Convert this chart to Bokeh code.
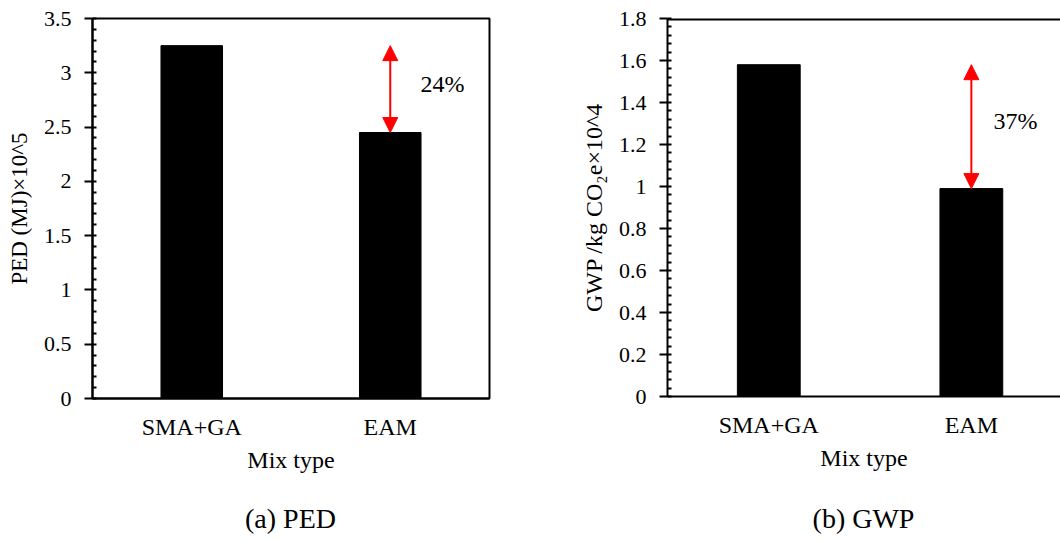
import numpy as np
from bokeh.plotting import figure
from bokeh.models import (Range1d, FixedTicker, NumeralTickFormatter, Arrow,
                          NormalHead, Label, Span, Div)
from bokeh.layouts import row, column
from bokeh.embed import file_html
from bokeh.resources import INLINE

# ---------------- data ----------------
mix_types = ["SMA+GA", "EAM"]
ped_values = [3.25, 2.45]          # PED (MJ) x10^5
gwp_values = [1.58, 0.99]          # GWP kg CO2e x10^4
ped_ticks = [0, 0.5, 1, 1.5, 2, 2.5, 3, 3.5]
gwp_ticks = [0, 0.2, 0.4, 0.6, 0.8, 1, 1.2, 1.4, 1.6, 1.8]
ped_reduction = "24%"
gwp_reduction = "37%"

FONT = "Liberation Serif"
FIG_H = 500
CAP_H = 41
x_pos = [i + 0.5 for i in range(len(mix_types))]


def make_panel(values, ticks, minor_step, x_end, ylabel, ylabel_size, pct,
               pct_x, pct_y, caption, width, b_left, b_right, b_bottom, outline):
    p = figure(width=width, height=FIG_H, output_backend="svg",
               toolbar_location=None,
               x_range=Range1d(0, x_end), y_range=Range1d(ticks[0], ticks[-1]),
               min_border_left=b_left, min_border_right=b_right,
               min_border_top=18, min_border_bottom=b_bottom)
    p.background_fill_color = "white"
    p.border_fill_color = "white"
    p.xgrid.visible = False
    p.ygrid.visible = False
    if outline:
        p.outline_line_color = "black"
        p.outline_line_width = 2
        p.outline_line_alpha = 1
    else:
        p.outline_line_color = None
        p.add_layout(Span(location=ticks[-1], dimension="width",
                          line_color="black", line_width=4))

    p.vbar(x=x_pos, top=values, width=0.31, fill_color="black",
           line_color="black")

    # x axis
    xa = p.xaxis[0]
    xa.ticker = FixedTicker(ticks=x_pos)
    xa.major_label_overrides = {x: lab for x, lab in zip(x_pos, mix_types)}
    xa.major_tick_line_color = None
    xa.minor_tick_line_color = None
    xa.axis_line_color = "black"
    xa.axis_line_width = 2
    xa.major_label_text_font = FONT
    xa.major_label_text_font_size = "24px"
    xa.major_label_text_color = "black"
    xa.major_label_standoff = 9
    xa.axis_label = "Mix type"
    xa.axis_label_text_font = FONT
    xa.axis_label_text_font_size = "24px"
    xa.axis_label_text_font_style = "normal"
    xa.axis_label_text_color = "black"
    xa.axis_label_standoff = 4

    # y axis
    ya = p.yaxis[0]
    minor = list(np.round(np.arange(ticks[0], ticks[-1] + 1e-9, minor_step), 4))
    ya.ticker = FixedTicker(ticks=ticks, minor_ticks=minor)
    ya.formatter = NumeralTickFormatter(format="0.[0]")
    ya.axis_line_color = "black"
    ya.axis_line_width = 2
    ya.major_tick_line_color = "black"
    ya.major_tick_line_width = 2
    ya.major_tick_in = 0
    ya.major_tick_out = 8
    ya.minor_tick_line_color = "black"
    ya.minor_tick_line_width = 2
    ya.minor_tick_in = 4
    ya.minor_tick_out = 0
    ya.major_label_text_font = FONT
    ya.major_label_text_font_size = "22px"
    ya.major_label_text_color = "black"
    ya.major_label_standoff = 13
    ya.axis_label = ylabel
    ya.axis_label_text_font = FONT
    ya.axis_label_text_font_size = ylabel_size
    ya.axis_label_text_font_style = "normal"
    ya.axis_label_text_color = "black"
    ya.axis_label_standoff = 9

    # red double arrow between the two bar tops
    p.add_layout(Arrow(x_start=x_pos[1], y_start=values[1],
                       x_end=x_pos[1], y_end=values[0],
                       start=NormalHead(size=15, fill_color="red", line_color="red"),
                       end=NormalHead(size=15, fill_color="red", line_color="red"),
                       line_color="red", line_width=2))
    p.add_layout(Label(x=pct_x, y=pct_y, text=pct, text_font=FONT,
                       text_font_size="24px", text_color="black",
                       text_align="left", text_baseline="middle"))

    # caption below the chart, centred under the plot frame
    frame_w = width - b_left - b_right
    cap = Div(text=(f'<div style="margin-left:{b_left}px;width:{frame_w}px;'
                    f'text-align:center;font-family:\'{FONT}\';font-size:28px;'
                    f'line-height:{CAP_H - 4}px;color:black;">{caption}</div>'),
              width=width, height=CAP_H, margin=(0, 0, 0, 0))
    return column(p, cap, spacing=0)


c1 = make_panel(ped_values, ped_ticks, 0.1, 2.0, "PED (MJ)×10^5", "23px",
                ped_reduction, 1.652, 2.9, "(a) PED",
                560, 92, 71, FIG_H - 398, True)
c2 = make_panel(gwp_values, gwp_ticks, 0.04, 1.94, "GWP /kg CO₂e×10^4", "24px",
                gwp_reduction, 1.609, 1.314, "(b) GWP",
                500, 107, 0, FIG_H - 396, False)

layout = row(c1, c2, spacing=0)
open("out.html", "w").write(file_html(layout, INLINE))
